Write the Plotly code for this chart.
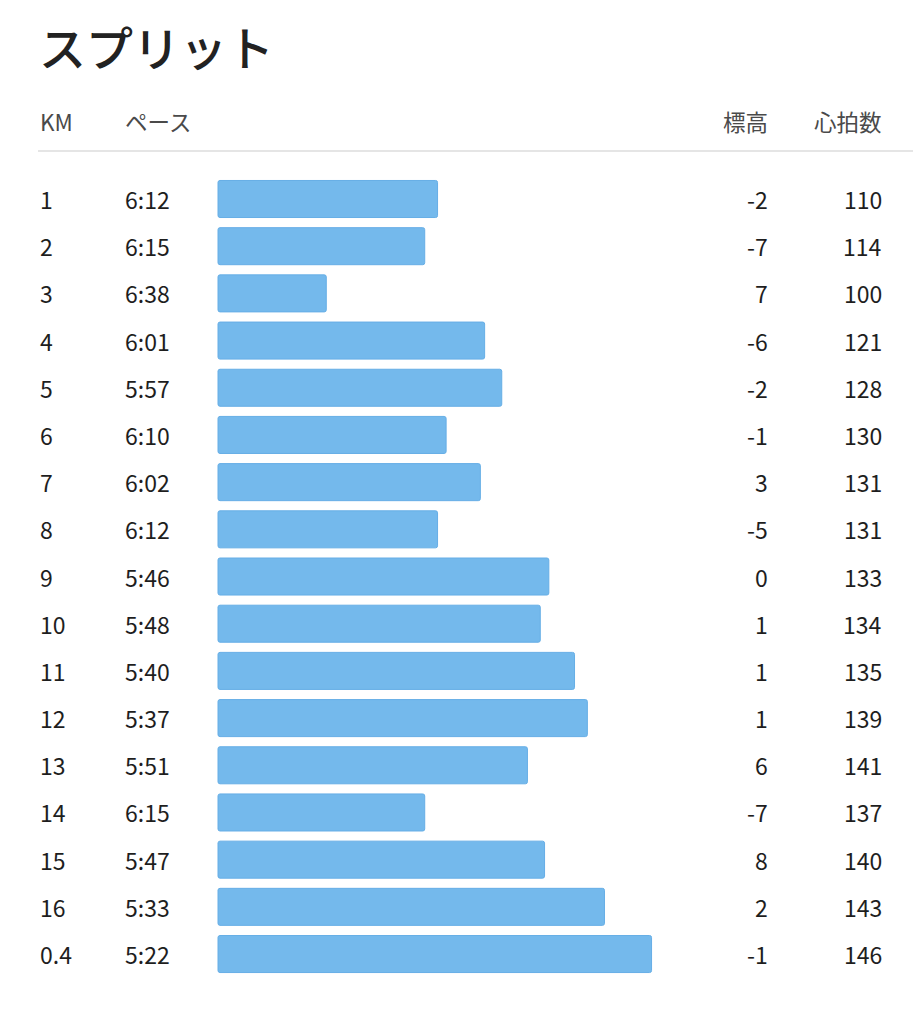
import plotly.graph_objects as go

km_labels = ["1", "2", "3", "4", "5", "6", "7", "8", "9", "10", "11", "12", "13", "14", "15", "16", "0.4"]
pace_labels = ["6:12", "6:15", "6:38", "6:01", "5:57", "6:10", "6:02", "6:12", "5:46", "5:48",
               "5:40", "5:37", "5:51", "6:15", "5:47", "5:33", "5:22"]
elevation = [-2, -7, 7, -6, -2, -1, 3, -5, 0, 1, 1, 1, 6, -7, 8, 2, -1]
heart_rate = [110, 114, 100, 121, 128, 130, 131, 131, 133, 134, 135, 139, 141, 137, 140, 143, 146]
headers = ["KM", "ペース", "標高", "心拍数"]
title_text = "スプリット"

W, H = 921, 1024
OFF = 8  # page body margin
BAR_ORIGIN = 423.3  # seconds/km at the bar's left edge
PX_PER_SEC = 4.28
BAR_LEFT_PX = 218 - OFF

def to_sec(p):
    m, s = p.split(":")
    return int(m) * 60 + int(s)

def px(x):
    return (x - OFF) / W

def py(y):
    return 1 - (y - OFF) / H

pace_sec = [to_sec(p) for p in pace_labels]
rows = list(range(len(km_labels)))

x_left = BAR_ORIGIN + BAR_LEFT_PX / PX_PER_SEC
x_right = BAR_ORIGIN - (W - BAR_LEFT_PX) / PX_PER_SEC

ROW0_PX, ROW_STEP = 199 - OFF, 47.19
y_top = -ROW0_PX / ROW_STEP
y_bot = (H - ROW0_PX) / ROW_STEP

fig = go.Figure()
fig.add_trace(go.Bar(
    y=rows,
    x=[p - BAR_ORIGIN for p in pace_sec],
    base=BAR_ORIGIN,
    orientation="h",
    width=0.785,
    marker=dict(color="#74b9ec", line=dict(color="#66aee6", width=1), cornerradius=2),
    hoverinfo="skip",
))

FONT = "Noto Sans CJK JP"
TXT = "#1e1e1e"
RS = 23
ann = []
for i in rows:
    ann.append(dict(x=px(38), y=i, xref="paper", yref="y", text=km_labels[i], showarrow=False,
                    xanchor="left", yanchor="middle", font=dict(size=RS, color=TXT, family=FONT)))
    ann.append(dict(x=px(123), y=i, xref="paper", yref="y", text=pace_labels[i], showarrow=False,
                    xanchor="left", yanchor="middle", font=dict(size=RS, color=TXT, family=FONT)))
    ann.append(dict(x=px(770), y=i, xref="paper", yref="y", text=str(elevation[i]), showarrow=False,
                    xanchor="right", yanchor="middle", font=dict(size=RS, color=TXT, family=FONT)))
    ann.append(dict(x=px(884), y=i, xref="paper", yref="y", text=str(heart_rate[i]), showarrow=False,
                    xanchor="right", yanchor="middle", font=dict(size=RS, color=TXT, family=FONT)))

HDR = "#4a4a4a"
HS = 22.5
hy = py(121)
ann += [
    dict(x=px(38), y=hy, xref="paper", yref="paper", text=headers[0], showarrow=False,
         xanchor="left", yanchor="middle", font=dict(size=HS, color=HDR, family=FONT)),
    dict(x=px(123), y=hy, xref="paper", yref="paper", text=headers[1], showarrow=False,
         xanchor="left", yanchor="middle", font=dict(size=HS, color=HDR, family=FONT)),
    dict(x=px(770), y=hy, xref="paper", yref="paper", text=headers[2], showarrow=False,
         xanchor="right", yanchor="middle", font=dict(size=HS, color=HDR, family=FONT)),
    dict(x=px(884), y=hy, xref="paper", yref="paper", text=headers[3], showarrow=False,
         xanchor="right", yanchor="middle", font=dict(size=HS, color=HDR, family=FONT)),
    dict(x=px(37), y=py(45), xref="paper", yref="paper", text=title_text, showarrow=False,
         xanchor="left", yanchor="middle",
         font=dict(size=47, color="#222222", family=FONT, weight=500)),
]

fig.update_layout(
    width=W, height=H,
    margin=dict(l=0, r=0, t=0, b=0),
    paper_bgcolor="white", plot_bgcolor="white",
    showlegend=False,
    annotations=ann,
    shapes=[dict(type="line", xref="paper", yref="paper", x0=px(38), x1=1,
                 y0=py(151), y1=py(151), line=dict(color="#dcdcdc", width=1.5))],
    xaxis=dict(range=[x_left, x_right], visible=False, fixedrange=True),
    yaxis=dict(range=[y_bot, y_top], visible=False, fixedrange=True),
)

fig.write_html("out.html")
